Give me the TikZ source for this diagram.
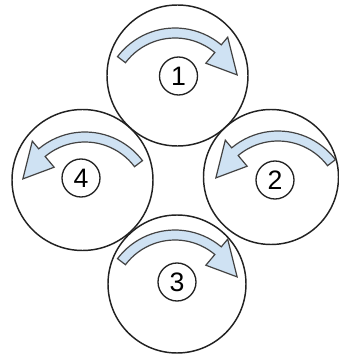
\documentclass[tikz,border=0pt]{standalone}
\usepackage{fontspec}
\setmainfont{Liberation Sans}
\definecolor{arrowfill}{HTML}{CFE2F3}
\definecolor{lineclr}{HTML}{222222}
\tikzset{
  bigcirc/.style={draw=lineclr, line width=1.1pt, circle, minimum size=#1, inner sep=0pt},
  numcirc/.style={draw=lineclr, line width=1.0pt, circle, minimum size=28.5pt, inner sep=0pt,
                  font=\fontsize{20}{20}\selectfont},
  curvearrow/.style={draw=lineclr!85, line width=0.9pt, fill=arrowfill, line join=miter}
}
\newcommand{\curvedarrowshape}{%
  (143:72) arc[start angle=143, end angle=50, radius=72] -- (50:82) -- (22:67) -- (50:48)
  -- (50:62) arc[start angle=50, end angle=143, radius=62] -- cycle}
\begin{document}
\begin{tikzpicture}[x=0.75pt,y=0.75pt]
\useasboundingbox (0,0) rectangle (339,354);
% big circles
\node[bigcirc=105.75pt] (c1) at (177.5,278.5) {};
\node[bigcirc=103.5pt] (c3) at (177,70) {};
\node[bigcirc=105.75pt] (c4) at (82.5,174) {};
\node[bigcirc=101.25pt] (c2) at (271,177) {};
% arrows
\begin{scope}[shift={(175,254)}]
  \path[curvearrow] \curvedarrowshape;
\end{scope}
\begin{scope}[shift={(175,52)}]
  \path[curvearrow] \curvedarrowshape;
\end{scope}
\begin{scope}[shift={(85,150)}, xscale=-1]
  \path[curvearrow] \curvedarrowshape;
\end{scope}
\begin{scope}[shift={(278,151)}, xscale=-1]
  \path[curvearrow] \curvedarrowshape;
\end{scope}
% number circles
\node[numcirc] (n1) at (178.5,278) {1};
\node[numcirc] (n2) at (275,174) {2};
\node[numcirc] (n3) at (177,72) {3};
\node[numcirc] (n4) at (81,176) {4};
\end{tikzpicture}
\end{document}
